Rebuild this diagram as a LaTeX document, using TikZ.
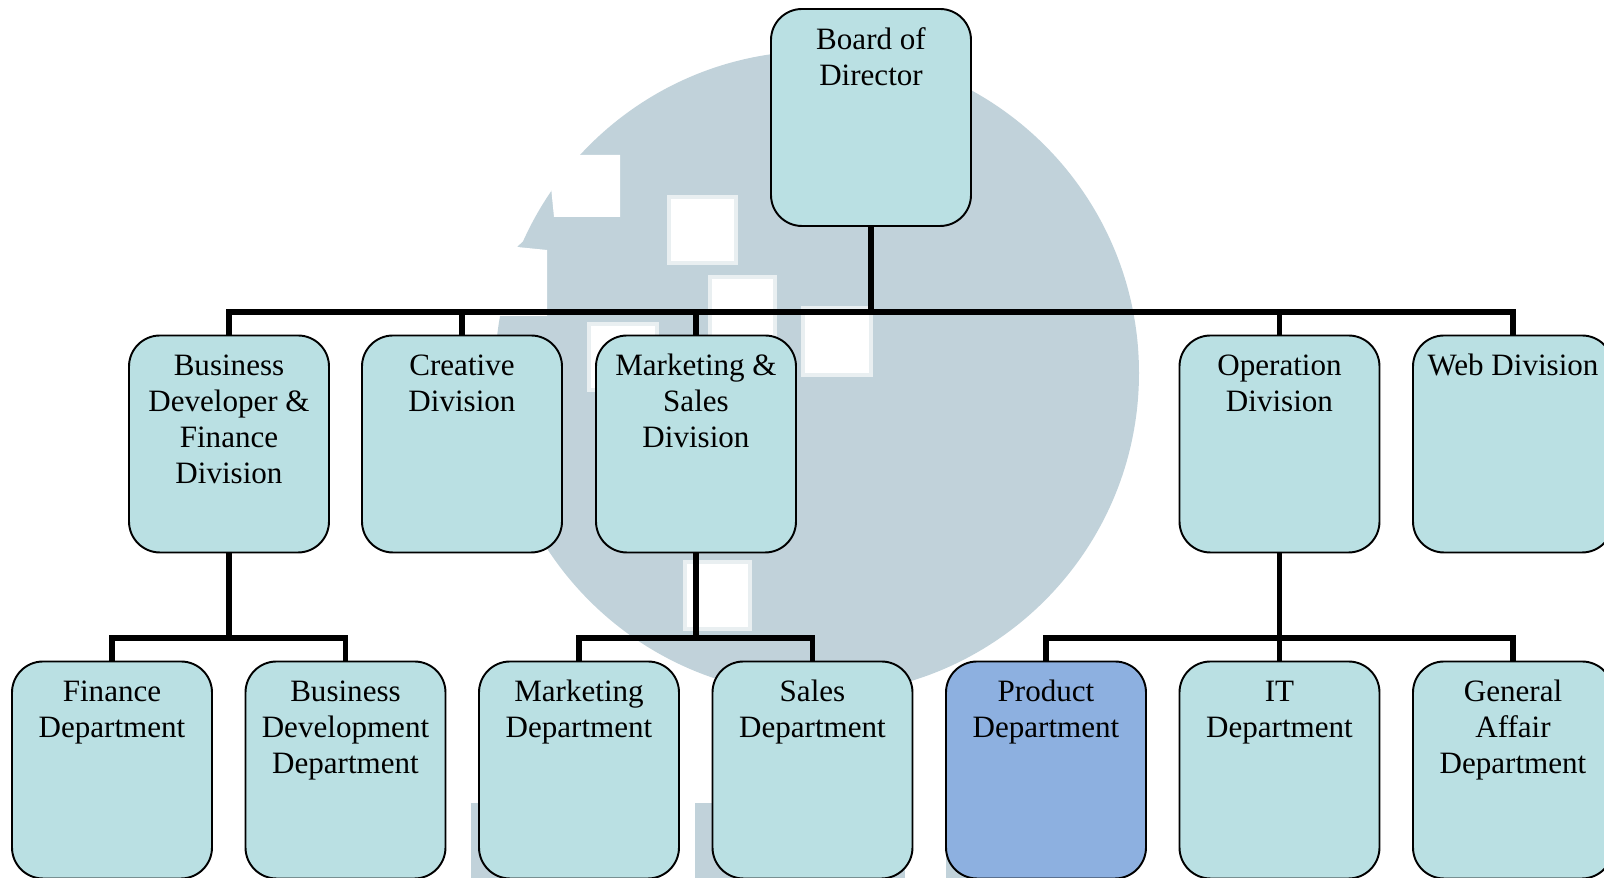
\documentclass[tikz,border=0pt]{standalone}
\usepackage{fontspec}
\setmainfont{Liberation Serif}

\definecolor{boxteal}{HTML}{BAE0E3}
\definecolor{boxblue}{HTML}{8DB0E0}
\definecolor{markgray}{HTML}{C1D2DA}
\definecolor{markpale}{HTML}{E9EFF1}

\newcommand{\boxtext}[1]{\parbox[c][2.17cm][t]{2cm}{\centering\rule{0pt}{11.5pt}#1}}

\tikzset{
  orgbox/.style={draw=black, line width=0.55pt, fill=boxteal, rounded corners=0.31cm,
    minimum width=2cm, minimum height=2.17cm, inner sep=0pt, font=\fontsize{8.84}{10.2}\selectfont},
  linkline/.style={draw=black, line width=1.7pt},
  markhole/.style={fill=white, draw=markpale, line width=1pt}
}

\begin{document}
\begin{tikzpicture}

\useasboundingbox (0,0) rectangle (16.04,8.78);
\clip (0,0) rectangle (16.04,8.78);

% Watermark behind the chart
\fill[markgray] (8.17,5.05) circle (3.22cm);
\fill[markgray] (5.17,6.31) -- (5.60,6.70) -- (5.60,6.20) -- cycle;
\fill[white] (4.70,7.23) -- (6.20,7.23) -- (6.20,6.61) -- (5.54,6.61) -- (5.51,6.91) -- (5.17,6.31)
  -- (5.47,6.28) -- (5.47,5.62) -- (4.70,5.62) -- cycle;
\draw[markhole] (6.69,6.81) rectangle (7.36,6.15);
\draw[markhole] (7.10,6.01) rectangle (7.75,5.35);
\draw[markhole] (8.03,5.70) rectangle (8.71,5.03);
\draw[markhole] (5.89,5.54) rectangle (6.57,4.88);
\draw[markhole] (6.85,3.16) rectangle (7.50,2.49);
\fill[markgray] (4.71,0) rectangle (6.60,0.75);
\fill[markgray] (6.95,0) rectangle (9.05,0.75);
\fill[markgray] (9.46,0) rectangle (11.00,0.75);

% Top of the chart
\node[orgbox] (board) at (8.71,7.605) {\boxtext{Board of\\Director}};

% Divisions
\node[orgbox] (bizdiv) at (2.29,4.34) {\boxtext{Business\\Developer \&\\Finance\\Division}};
\node[orgbox] (creatdiv) at (4.62,4.34) {\boxtext{Creative\\Division}};
\node[orgbox] (markdiv) at (6.96,4.34) {\boxtext{Marketing \&\\Sales\\Division}};
\node[orgbox] (opdiv) at (12.795,4.34) {\boxtext{Operation\\Division}};
\node[orgbox] (webdiv) at (15.13,4.34) {\boxtext{Web Division}};

% Departments
\node[orgbox] (findep) at (1.12,1.08) {\boxtext{Finance\\Department}};
\node[orgbox] (bizdep) at (3.455,1.08) {\boxtext{Business\\Development\\Department}};
\node[orgbox] (markdep) at (5.79,1.08) {\boxtext{Marketing\\Department}};
\node[orgbox] (salesdep) at (8.125,1.08) {\boxtext{Sales\\Department}};
\node[orgbox, fill=boxblue] (proddep) at (10.46,1.08) {\boxtext{Product\\Department}};
\node[orgbox] (itdep) at (12.795,1.08) {\boxtext{IT\\Department}};
\node[orgbox] (gadep) at (15.13,1.08) {\boxtext{General\\Affair\\Department}};

% Points where the lines branch
\coordinate (boardbus) at (8.71,5.66);
\coordinate (bizbus) at (2.29,2.40);
\coordinate (markbus) at (6.96,2.40);
\coordinate (opbus) at (12.795,2.40);

% Draw lines
\draw[linkline] (board.south) -- (boardbus);
\draw[linkline] (bizdiv.north) |- (boardbus);
\draw[linkline] (creatdiv.north) |- (boardbus);
\draw[linkline] (markdiv.north) |- (boardbus);
\draw[linkline] (opdiv.north) |- (boardbus);
\draw[linkline] (webdiv.north) |- (boardbus);

\draw[linkline] (bizdiv.south) -- (bizbus);
\draw[linkline] (findep.north) |- (bizbus);
\draw[linkline] (bizdep.north) |- (bizbus);

\draw[linkline] (markdiv.south) -- (markbus);
\draw[linkline] (markdep.north) |- (markbus);
\draw[linkline] (salesdep.north) |- (markbus);

\draw[linkline] (opdiv.south) -- (opbus);
\draw[linkline] (proddep.north) |- (opbus);
\draw[linkline] (itdep.north) -- (opbus);
\draw[linkline] (gadep.north) |- (opbus);

\end{tikzpicture}
\end{document}
